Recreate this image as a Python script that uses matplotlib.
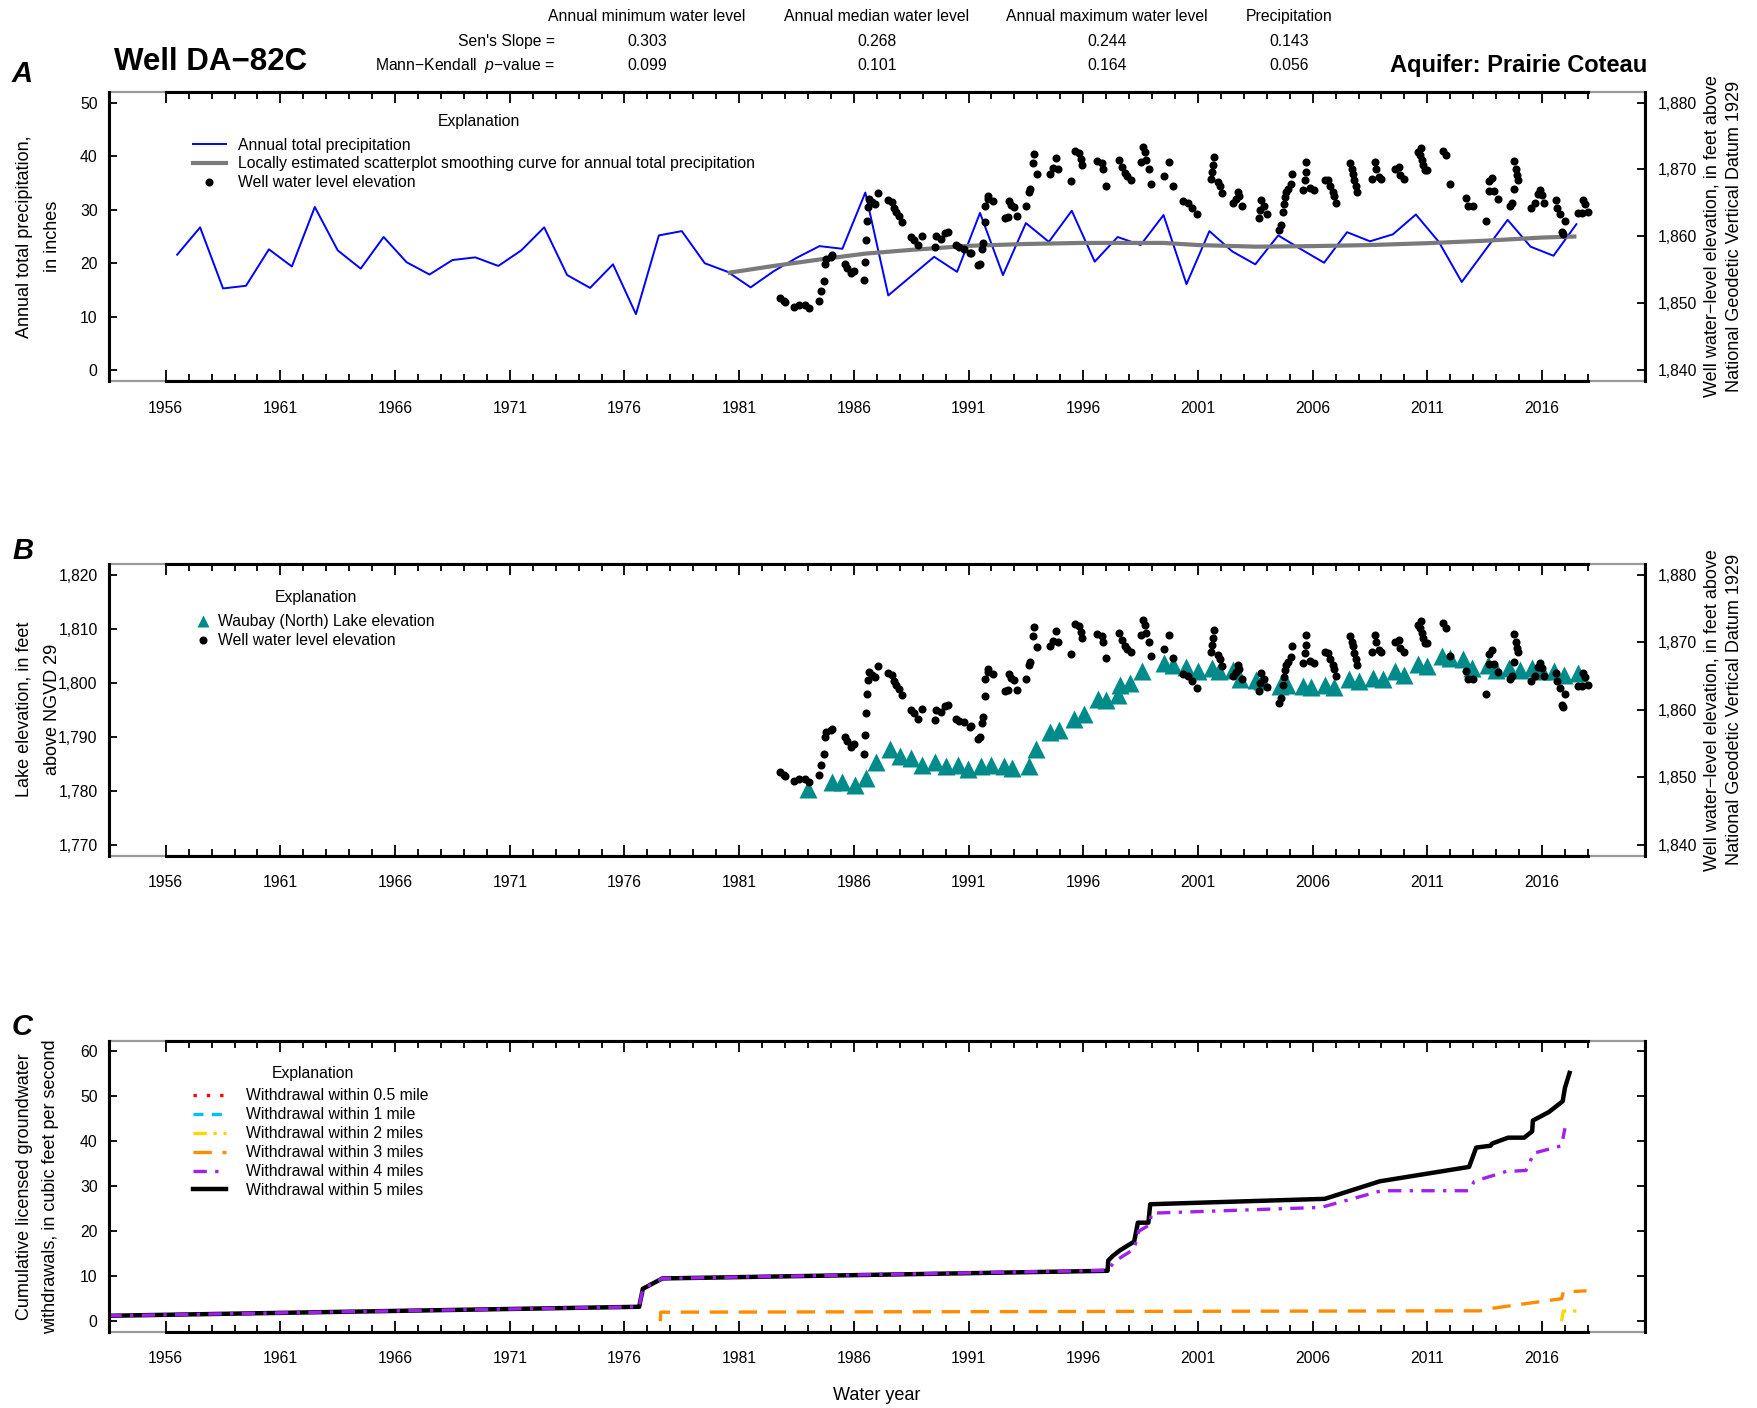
import numpy as np
import matplotlib
matplotlib.use("Agg")
import matplotlib.pyplot as plt
from matplotlib.patches import Rectangle
from matplotlib.lines import Line2D
from matplotlib.ticker import StrMethodFormatter

plt.rcParams['font.family'] = ['Liberation Sans', 'DejaVu Sans']
plt.rcParams['mathtext.fontset'] = 'custom'
plt.rcParams['mathtext.rm'] = 'Liberation Sans'
plt.rcParams['mathtext.it'] = 'Liberation Sans:italic'

# ---- header stats ----
stat_cols = ['Annual minimum water level', 'Annual median water level',
             'Annual maximum water level', 'Precipitation']
sens_slope = ['0.303', '0.268', '0.244', '0.143']
mk_pvalue = ['0.099', '0.101', '0.164', '0.056']

# ---- annual total precipitation (inches), plotted at mid water year ----
precip_year = np.arange(1956, 2018) + 0.5
precip = [21.6, 26.7, 15.3, 15.8, 22.6, 19.4, 30.5, 22.4, 19.0, 24.9,
          20.2, 17.9, 20.6, 21.1, 19.5, 22.4, 26.7, 17.8, 15.4, 19.8,
          10.5, 25.2, 26.0, 20.0, 18.4, 15.5, 18.5, 21.0, 23.2, 22.7,
          33.2, 14.0, 17.6, 21.2, 18.4, 29.4, 17.8, 27.5, 24.0, 29.8,
          20.3, 24.9, 23.4, 29.0, 16.1, 26.0, 22.2, 19.8, 25.2, 22.6,
          20.1, 25.8, 24.1, 25.4, 29.1, 24.0, 16.5, 22.3, 28.1, 23.1,
          21.4, 27.3]

# loess curve
loess_year = [1980.5, 1982.5, 1984.5, 1986.5, 1988.5, 1991.0, 1993.5, 1996.0,
              1999.5, 2001.0, 2003.5, 2006.0, 2008.5, 2011.0, 2013.5, 2016.0, 2017.5]
loess_val = [18.2, 19.5, 20.7, 21.8, 22.5, 23.25, 23.6, 23.8,
             23.8, 23.4, 23.1, 23.2, 23.4, 23.75, 24.2, 24.8, 25.0]

# ---- well water level elevation (ft) ----
well_year = [1982.79, 1982.94, 1983.00, 1983.41, 1983.60, 1983.85, 1984.04, 1984.50, 1984.58, 1984.69,
             1984.74, 1984.80, 1985.00, 1985.06, 1985.60, 1985.70, 1985.89, 1986.00, 1986.44, 1986.50,
             1986.54, 1986.57, 1986.61, 1986.68, 1986.80, 1986.90, 1987.05, 1987.48, 1987.66, 1987.77,
             1987.85, 1987.97, 1988.10, 1988.50, 1988.64, 1988.79, 1988.98, 1989.52, 1989.60, 1989.82,
             1989.97, 1990.10, 1990.46, 1990.60, 1990.80, 1991.05, 1991.12, 1991.40, 1991.48, 1991.60,
             1991.65, 1991.70, 1991.72, 1991.84, 1991.86, 1992.06, 1992.57, 1992.70, 1992.76, 1992.87,
             1992.97, 1993.12, 1993.51, 1993.63, 1993.70, 1993.80, 1993.85, 1994.00, 1994.53, 1994.70,
             1994.80, 1994.90, 1995.48, 1995.63, 1995.80, 1995.90, 1995.96, 1996.60, 1996.80, 1996.85,
             1997.00, 1997.58, 1997.70, 1997.80, 1997.90, 1998.06, 1998.53, 1998.60, 1998.70, 1998.75,
             1998.86, 1998.96, 1999.54, 1999.72, 1999.93, 2000.37, 2000.55, 2000.75, 2000.95, 2001.58,
             2001.62, 2001.67, 2001.72, 2001.87, 2001.94, 2002.06, 2002.52, 2002.64, 2002.74, 2002.80,
             2002.93, 2003.66, 2003.71, 2003.76, 2003.90, 2004.00, 2004.53, 2004.60, 2004.70, 2004.73,
             2004.78, 2004.82, 2004.92, 2005.07, 2005.12, 2005.58, 2005.65, 2005.70, 2005.72, 2005.90,
             2006.04, 2006.52, 2006.67, 2006.77, 2006.87, 2006.93, 2007.00, 2007.61, 2007.70, 2007.74,
             2007.80, 2007.88, 2007.93, 2008.60, 2008.70, 2008.76, 2008.90, 2009.00, 2009.57, 2009.75,
             2009.80, 2009.97, 2010.59, 2010.70, 2010.73, 2010.76, 2010.82, 2010.88, 2011.00, 2011.68,
             2011.83, 2011.97, 2012.70, 2012.77, 2013.00, 2013.57, 2013.68, 2013.70, 2013.80, 2013.90,
             2014.08, 2014.60, 2014.70, 2014.76, 2014.80, 2014.85, 2014.90, 2014.95, 2015.50, 2015.70,
             2015.81, 2015.90, 2015.99, 2016.08, 2016.63, 2016.66, 2016.80, 2016.87, 2016.90, 2016.99,
             2017.58, 2017.75, 2017.80, 2017.87, 2018.00]
well_level = [1850.8, 1850.3, 1850.2, 1849.4, 1849.7, 1849.7, 1849.3, 1850.4, 1851.8, 1853.4,
              1855.9, 1856.7, 1857.0, 1857.2, 1855.9, 1855.3, 1854.5, 1854.9, 1853.5, 1856.2,
              1859.5, 1862.3, 1864.4, 1865.6, 1865.1, 1864.8, 1866.5, 1865.5, 1865.2, 1864.2,
              1863.6, 1863.1, 1862.2, 1859.9, 1859.5, 1858.7, 1860.1, 1858.5, 1860.0, 1859.6,
              1860.5, 1860.7, 1858.7, 1858.4, 1858.2, 1857.5, 1857.6, 1855.7, 1855.9, 1858.1,
              1859.0, 1862.1, 1864.5, 1865.6, 1866.0, 1865.3, 1862.8, 1862.9, 1865.3, 1864.7,
              1864.4, 1863.0, 1864.5, 1866.6, 1867.1, 1870.9, 1872.3, 1869.3, 1869.4, 1870.2,
              1871.7, 1870.1, 1868.3, 1872.7, 1872.4, 1871.6, 1870.6, 1871.3, 1871.0, 1870.1,
              1867.6, 1871.4, 1870.4, 1869.5, 1869.0, 1868.5, 1871.1, 1873.3, 1872.6, 1871.4,
              1870.1, 1867.9, 1869.0, 1871.1, 1867.6, 1865.3, 1865.0, 1864.3, 1863.3, 1868.6,
              1869.6, 1870.6, 1871.8, 1868.1, 1867.5, 1866.5, 1865.0, 1865.6, 1866.6, 1866.1,
              1864.5, 1862.8, 1863.9, 1865.4, 1864.5, 1863.4, 1861.0, 1861.7, 1863.7, 1864.9,
              1865.9, 1866.6, 1867.1, 1867.8, 1869.4, 1866.9, 1868.4, 1869.6, 1871.1, 1867.3,
              1866.9, 1868.5, 1868.4, 1867.5, 1866.7, 1866.0, 1865.0, 1870.9, 1870.1, 1869.4,
              1868.4, 1867.5, 1866.6, 1868.6, 1871.1, 1870.1, 1868.9, 1868.6, 1870.1, 1870.3,
              1869.2, 1868.6, 1872.6, 1872.1, 1873.2, 1871.4, 1870.6, 1869.9, 1869.9, 1872.8,
              1872.1, 1867.9, 1865.8, 1864.5, 1864.5, 1862.3, 1866.8, 1868.3, 1868.8, 1866.8,
              1865.6, 1864.5, 1865.0, 1867.1, 1871.3, 1870.1, 1869.2, 1868.5, 1864.2, 1865.0,
              1866.4, 1867.0, 1866.2, 1865.0, 1865.4, 1864.3, 1863.3, 1860.7, 1860.4, 1862.3,
              1863.5, 1863.5, 1865.4, 1864.9, 1863.7]

# ---- Waubay (North) Lake elevation (ft) ----
lake_year = [1984.00, 1985.06, 1985.50, 1986.07, 1986.53, 1986.98, 1987.56, 1987.99, 1988.50, 1988.96,
             1989.55, 1990.03, 1990.53, 1990.97, 1991.55, 1991.99, 1992.53, 1992.90, 1993.63, 1993.95,
             1994.56, 1994.94, 1995.58, 1996.03, 1996.64, 1997.00, 1997.51, 1997.60, 1998.02, 1998.57,
             1999.54, 1999.90, 2000.49, 2000.99, 2001.62, 2001.90, 2002.52, 2002.84, 2003.51, 2003.80,
             2004.56, 2004.87, 2005.57, 2005.93, 2006.52, 2006.91, 2007.58, 2008.00, 2008.62, 2009.05,
             2009.57, 2009.97, 2010.59, 2010.98, 2011.65, 2011.97, 2012.55, 2012.96, 2013.64, 2013.98,
             2014.56, 2015.03, 2015.57, 2016.01, 2016.54, 2016.97, 2017.55]
lake_level = [1780.4, 1781.6, 1781.6, 1781.0, 1782.3, 1785.4, 1787.7, 1786.5, 1786.0, 1784.7,
              1785.4, 1784.6, 1784.7, 1784.1, 1784.6, 1784.7, 1784.6, 1784.3, 1784.6, 1787.8,
              1790.8, 1791.2, 1793.2, 1794.2, 1797.0, 1796.8, 1797.8, 1799.6, 1799.9, 1802.1,
              1803.6, 1803.3, 1803.0, 1802.1, 1802.7, 1802.1, 1802.3, 1800.7, 1800.5, 1800.3,
              1799.4, 1799.6, 1799.4, 1799.2, 1799.6, 1799.2, 1800.7, 1800.3, 1800.9, 1800.7,
              1802.1, 1801.5, 1803.5, 1803.1, 1805.0, 1804.6, 1804.4, 1802.7, 1803.3, 1802.4,
              1802.7, 1802.4, 1802.7, 1802.1, 1802.1, 1801.5, 1801.9]

# ---- cumulative licensed withdrawals (cfs) ----
w05_year, w05_val = [], []
w1_year, w1_val = [], []
w2_year = [2016.85, 2016.93, 2017.63]
w2_val = [0.0, 2.25, 2.25]
w3_year = [1977.56, 1977.58, 2013.30, 2013.75, 2016.85, 2016.93, 2017.94]
w3_val = [0.0, 2.0, 2.3, 2.8, 5.0, 6.5, 6.75]
w4_year = [1953.5, 1976.64, 1976.80, 1977.65, 1997.06, 1997.37, 1998.22, 1998.42, 1998.92, 1998.96,
           2006.37, 2009.00, 2012.80, 2013.05, 2014.45, 2015.30, 2015.57, 2015.60, 2016.85, 2017.00]
w4_val = [1.2, 3.2, 7.2, 9.5, 11.3, 13.3, 16.05, 20.0, 21.5, 24.0,
          25.3, 29.0, 29.0, 31.1, 33.3, 33.5, 36.5, 37.3, 39.0, 42.9]
w5_year = [1953.5, 1976.64, 1976.80, 1977.65, 1997.06, 1997.09, 1997.30, 1997.60, 1998.22, 1998.38,
           1998.84, 1998.92, 2006.53, 2008.93, 2012.82, 2013.13, 2013.75, 2013.83, 2014.52, 2015.22,
           2015.57, 2015.60, 2016.30, 2016.90, 2017.00, 2017.20]
w5_val = [1.2, 3.2, 7.2, 9.5, 11.2, 13.5, 14.55, 15.75, 17.7, 21.9,
          21.9, 26.0, 27.2, 31.1, 34.3, 38.6, 39.0, 39.5, 40.8, 40.8,
          42.2, 44.6, 46.5, 48.9, 51.9, 55.2]

year_ticks = list(range(1956, 2017, 5))
BOX_GRAY = '#9a9a9a'
FS_TICK = 11.3
FS_LAB = 13
DOT = 5.8


def frame(ax, yticks, rax=None, rticks=None):
    ax.set_xlim(1953.52, 2020.48)
    ax.set_xticks(year_ticks)
    ax.set_xticks(range(1956, 2019), minor=True)
    ax.set_yticks(yticks)
    ax.yaxis.set_major_formatter(StrMethodFormatter('{x:,.0f}'))
    ax.tick_params(axis='x', which='both', direction='in', top=True, bottom=True,
                   width=1.3, pad=14, labelsize=FS_TICK)
    ax.tick_params(axis='x', which='major', length=8)
    ax.tick_params(axis='x', which='minor', length=5)
    ax.tick_params(axis='y', direction='in', length=6, width=1.3, pad=8, labelsize=FS_TICK)
    ax.spines['top'].set_bounds(1956, 2018)
    ax.spines['bottom'].set_bounds(1956, 2018)
    for s in ax.spines.values():
        s.set_linewidth(2.2)
    ax.add_patch(Rectangle((0, 0), 1, 1, transform=ax.transAxes, fill=False,
                           ec=BOX_GRAY, lw=1.6, clip_on=False, zorder=0))
    if rax is None:
        ax.tick_params(axis='y', right=True)
    else:
        ax.spines['right'].set_visible(False)
        for s in ['top', 'bottom', 'left']:
            rax.spines[s].set_visible(False)
        rax.set_yticks(rticks)
        rax.yaxis.set_major_formatter(StrMethodFormatter('{x:,.0f}'))
        rax.spines['right'].set_linewidth(2.2)
        rax.tick_params(axis='y', direction='in', length=6, width=1.3, pad=9, labelsize=FS_TICK)


def explanation(ax, handles, labels, x, title_xy, top, pad):
    ax.text(title_xy[0], title_xy[1], 'Explanation', transform=ax.transAxes,
            fontsize=FS_TICK, ha='center', va='center')
    ax.legend(handles, labels, loc='upper left', bbox_to_anchor=(x, top), frameon=False,
              fontsize=FS_TICK, handlelength=pad[0], handletextpad=pad[1],
              labelspacing=0.25, borderpad=0, borderaxespad=0)


fig = plt.figure(figsize=(17.58, 14.08), dpi=100)
L, W = 0.0619, 0.8737
axA = fig.add_axes([L, 0.7293, W, 0.2055])
axB = fig.add_axes([L, 0.3924, W, 0.2070])
axC = fig.add_axes([L, 0.0540, W, 0.2070])

# ---------------- panel A ----------------
axA.plot(precip_year, precip, color='blue', lw=1.4)
axA.plot(loess_year, loess_val, color='#7a7a7a', lw=3.0, solid_capstyle='butt')
axA.set_ylim(-2, 52)
rA = axA.twinx()
rA.plot(well_year, well_level, 'o', color='black', ms=DOT, mec='none')
rA.set_ylim(1838.4, 1881.6)
frame(axA, [0, 10, 20, 30, 40, 50], rA, [1840, 1850, 1860, 1870, 1880])
hA = [Line2D([], [], color='blue', lw=1.4),
      Line2D([], [], color='#7a7a7a', lw=3.0),
      Line2D([], [], ls='none', marker='o', color='black', ms=DOT, mec='none')]
explanation(rA, hA, ['Annual total precipitation',
                     'Locally estimated scatterplot smoothing curve for annual total precipitation',
                     'Well water level elevation'],
            0.0547, (0.2409, 0.899), 0.842, (2.1, 0.75))

# ---------------- panel B ----------------
axB.plot(lake_year, lake_level, '^', color='#008B8B', ms=13.5, mec='none')
axB.set_ylim(1768, 1822)
rB = axB.twinx()
rB.plot(well_year, well_level, 'o', color='black', ms=DOT, mec='none')
rB.set_ylim(1838.4, 1881.6)
frame(axB, [1770, 1780, 1790, 1800, 1810, 1820], rB, [1840, 1850, 1860, 1870, 1880])
hB = [Line2D([], [], ls='none', marker='^', color='#008B8B', ms=8, mec='none'),
      Line2D([], [], ls='none', marker='o', color='black', ms=DOT, mec='none')]
explanation(rB, hB, ['Waubay (North) Lake elevation', 'Well water level elevation'],
            0.057, (0.135, 0.885), 0.828, (0.9, 0.5))

# ---------------- panel C ----------------
line_specs = [
    (w5_year, w5_val, dict(color='black', lw=3.2, ls='-'), 'Withdrawal within 5 miles'),
    (w4_year, w4_val, dict(color='#A020F0', lw=2.4, dashes=(4, 2.5, 1, 2.5)), 'Withdrawal within 4 miles'),
    (w3_year, w3_val, dict(color='#FF8C00', lw=2.4, dashes=(5.5, 3.2)), 'Withdrawal within 3 miles'),
    (w2_year, w2_val, dict(color='#FFD700', lw=2.4, dashes=(4, 2, 1, 2)), 'Withdrawal within 2 miles'),
    (w1_year, w1_val, dict(color='#00BFFF', lw=2.4, dashes=(3, 2.5)), 'Withdrawal within 1 mile'),
    (w05_year, w05_val, dict(color='red', lw=2.4, dashes=(1, 3)), 'Withdrawal within 0.5 mile'),
]
hC = []
for xs, ys, st, lab in line_specs:
    axC.plot(xs, ys, **st)
    hC.append((Line2D([], [], **st), lab))
hC = hC[::-1]
axC.set_ylim(-2.4, 62.4)
frame(axC, [0, 10, 20, 30, 40, 50, 60])
explanation(axC, [h for h, _ in hC], [l for _, l in hC],
            0.0547, (0.1328, 0.8885), 0.836, (2.1, 1.3))

# ---------------- texts ----------------
for lab, y in [('A', 0.9475), ('B', 0.609), ('C', 0.2707)]:
    fig.text(0.0128, y, lab, fontsize=21, fontweight='bold', fontstyle='italic',
             ha='center', va='center')
fig.text(0.065, 0.9562, 'Well DA\u221282C', fontsize=22.5, fontweight='bold', ha='left', va='center')
fig.text(0.9369, 0.9538, 'Aquifer: Prairie Coteau', fontsize=17, fontweight='bold',
         ha='right', va='center')

col_x = [0.368, 0.4987, 0.6295, 0.7334]
for cx, head, s, p in zip(col_x, stat_cols, sens_slope, mk_pvalue):
    fig.text(cx, 0.988, head, fontsize=FS_TICK, ha='center', va='center')
    fig.text(cx, 0.9705, s, fontsize=FS_TICK, ha='center', va='center')
    fig.text(cx, 0.9538, p, fontsize=FS_TICK, ha='center', va='center')
fig.text(0.3157, 0.9705, "Sen's Slope =", fontsize=FS_TICK, ha='right', va='center')
fig.text(0.3157, 0.9538, 'Mann\u2212Kendall  $p$\u2212value =', fontsize=FS_TICK, ha='right', va='center')

# y-axis labels (two lines each)
left_labels = [
    (0.832, 'Annual total precipitation,', 'in inches', 0.0298),
    (0.496, 'Lake elevation, in feet', 'above NGVD 29', 0.0298),
    (0.1575, 'Cumulative licensed groundwater', 'withdrawals, in cubic feet per second', 0.0285),
]
for yc, l1, l2, x2 in left_labels:
    fig.text(0.0137, yc, l1, rotation=90, fontsize=FS_LAB, ha='center', va='center')
    fig.text(x2, yc, l2, rotation=90, fontsize=FS_LAB, ha='center', va='center')
for yc in [0.832, 0.496]:
    fig.text(0.9739, yc, 'Well water\u2212level elevation, in feet above', rotation=90,
             fontsize=FS_LAB, ha='center', va='center')
    fig.text(0.9866, yc, 'National Geodetic Vertical Datum 1929', rotation=90,
             fontsize=FS_LAB, ha='center', va='center')

fig.text(0.4987, 0.0088, 'Water year', fontsize=FS_LAB, ha='center', va='center')

fig.savefig('out.png', dpi=100)
